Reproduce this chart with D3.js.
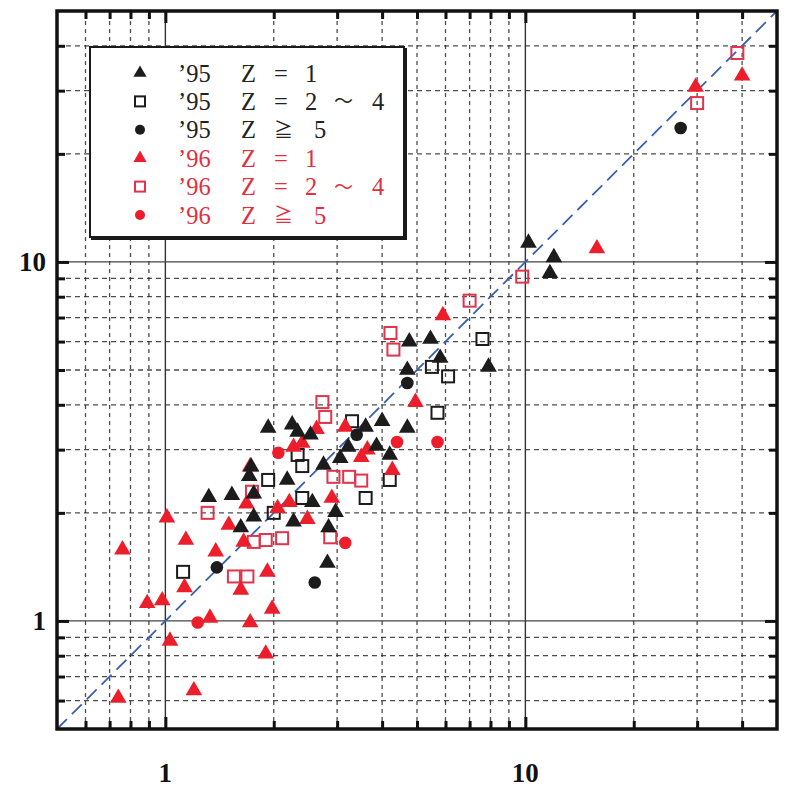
<!DOCTYPE html>
<html>
<head>
<meta charset="utf-8">
<script src="https://cdn.jsdelivr.net/npm/d3@7"></script>
<style>
  html, body { margin: 0; padding: 0; background: #fff; }
  svg { display: block; }
</style>
</head>
<body>
<svg id="chart" width="786" height="790"></svg>
<script>
// ---------------- DATA ----------------
const majorTicks = [1, 10];
const minorTicks = [0.6, 0.7, 0.8, 0.9, 2, 3, 4, 5, 6, 7, 8, 9, 20, 30, 40];
const tickLabels = ["1", "10"];

const seriesLabels = ["’95 Z = 1", "’95 Z = 2 ～ 4", "’95 Z ≧ 5",
                      "’96 Z = 1", "’96 Z = 2 ～ 4", "’96 Z ≧ 5"];

// '95 Z = 1 (black triangles)  [x, y]
const tri95 = [[10.2,11.3],[12.0,10.3],[11.7,9.3],[7.9,5.1],[5.8,5.4],[5.45,6.1],[4.76,6.0],
  [4.7,5.0],[4.7,3.45],[4.0,3.6],[3.6,3.47],[4.2,2.9],[3.86,3.07],[3.22,3.05],[3.06,2.84],
  [2.75,2.72],[2.53,3.3],[2.33,3.36],[2.25,3.52],[1.93,3.45],[2.18,2.47],[1.73,2.69],[1.71,2.53],
  [1.32,2.21],[1.53,2.24],[1.76,2.26],[1.76,1.95],[1.62,1.82],[2.27,1.89],[2.56,2.14],
  [2.97,2.01],[2.84,1.82],[2.82,1.45]];
// '95 Z = 2~4 (black squares)
const sq95 = [[7.6,6.1],[5.5,5.1],[6.1,4.8],[5.7,3.8],[4.2,2.47],[3.6,2.2],[3.3,3.6],[2.4,2.7],
  [2.33,2.9],[2.4,2.2],[1.93,2.47],[2.0,2.0],[1.12,1.37]];
// '95 Z >= 5 (black circles)
const circ95 = [[27,23.6],[4.7,4.6],[1.39,1.41],[2.6,1.28],[3.4,3.3]];
// '96 Z = 1 (red triangles)
const tri96 = [[40,33],[29.7,30.7],[15.8,10.9],[5.9,7.1],[4.95,4.07],[4.27,2.63],[3.5,2.86],
  [3.64,3.0],[3.16,3.47],[2.63,3.42],[2.4,3.13],[2.27,3.05],[1.72,2.69],[1.68,2.12],[1.5,1.85],
  [2.05,2.06],[2.21,2.14],[2.9,2.2],[2.48,1.92],[1.01,1.94],[1.14,1.68],[0.76,1.58],[1.38,1.56],
  [1.65,1.66],[1.13,1.24],[0.89,1.12],[0.98,1.14],[1.62,1.22],[1.03,0.88],[1.33,1.02],
  [1.72,0.99],[1.98,1.08],[1.9,0.81],[1.2,0.64],[0.74,0.61],[1.92,1.37]];
// '96 Z = 2~4 (red squares)
const sq96 = [[38.8,38.2],[30,27.7],[9.8,9.1],[7.0,7.8],[4.22,6.34],[4.3,5.7],[2.73,4.07],
  [2.78,3.7],[3.5,2.46],[3.24,2.52],[2.93,2.52],[2.87,1.71],[1.31,2.0],[1.74,2.29],[1.9,1.68],
  [2.11,1.70],[1.76,1.66],[1.55,1.33],[1.69,1.33]];
// '96 Z >= 5 (red circles)
const circ96 = [[5.7,3.15],[3.16,1.65],[2.06,2.94],[1.23,0.99],[4.4,3.15]];

// ---------------- DRAW ----------------
const svg = d3.select("#chart");
const BLACK = "#1c1c1c", RED = "#ec1e2c", RED_SQ = "#e0344c";

const x = d3.scaleLog().domain([0.5, 50]).range([57, 777]);
const y = d3.scaleLog().domain([0.5, 50]).range([729, 11]);
const [x0, x1] = x.range(), [y0, y1] = y.range();

svg.append("rect").attr("width", 786).attr("height", 790).attr("fill", "#fff");

const grid = svg.append("g");
// minor dashed grid
grid.selectAll(".gv").data(minorTicks).join("line")
  .attr("x1", d => x(d)).attr("x2", d => x(d)).attr("y1", y0).attr("y2", y1)
  .attr("stroke", "#222").attr("stroke-width", 1.3).attr("stroke-dasharray", "4,4")
  .attr("opacity", 0.8);
grid.selectAll(".gh").data(minorTicks).join("line")
  .attr("y1", d => y(d)).attr("y2", d => y(d)).attr("x1", x0).attr("x2", x1)
  .attr("stroke", "#222").attr("stroke-width", 1.3).attr("stroke-dasharray", "5,4")
  .attr("opacity", 0.8);
// major solid grid
grid.selectAll(".mv").data(majorTicks).join("line")
  .attr("x1", d => x(d)).attr("x2", d => x(d)).attr("y1", y0).attr("y2", y1)
  .attr("stroke", "#333").attr("stroke-width", 1.4);
grid.selectAll(".mh").data(majorTicks).join("line")
  .attr("y1", d => y(d)).attr("y2", d => y(d)).attr("x1", x0).attr("x2", x1)
  .attr("stroke", "#444").attr("stroke-width", 1.2);

// inward ticks on all four sides via d3 axes
function styleAxis(g) {
  g.select(".domain").remove();
  g.selectAll("line").attr("stroke", "#111").attr("stroke-width", 3);
  g.selectAll("text").remove();
}
function addAxes(ticks, len) {
  svg.append("g").attr("transform", `translate(0,${y0})`)
    .call(d3.axisBottom(x).tickValues(ticks).tickSize(-len)).call(styleAxis);
  svg.append("g").attr("transform", `translate(0,${y1})`)
    .call(d3.axisTop(x).tickValues(ticks).tickSize(-len)).call(styleAxis);
  svg.append("g").attr("transform", `translate(${x0},0)`)
    .call(d3.axisLeft(y).tickValues(ticks).tickSize(-len)).call(styleAxis);
  svg.append("g").attr("transform", `translate(${x1},0)`)
    .call(d3.axisRight(y).tickValues(ticks).tickSize(-len)).call(styleAxis);
}
addAxes(minorTicks, 8);
addAxes(majorTicks, 12);

// y = x diagonal
svg.append("line")
  .attr("x1", x(0.5)).attr("y1", y(0.5)).attr("x2", x(50)).attr("y2", y(50))
  .attr("stroke", "#3a5fb0").attr("stroke-width", 1.8).attr("stroke-dasharray", "14,7");

// frame
svg.append("rect").attr("x", x0).attr("y", y1).attr("width", x1 - x0).attr("height", y0 - y1)
  .attr("fill", "none").attr("stroke", "#111").attr("stroke-width", 3.5);

// tick labels
const lblFont = "'Liberation Serif', 'DejaVu Serif', serif";
svg.selectAll(".xl").data(majorTicks).join("text")
  .attr("x", d => x(d)).attr("y", 782).attr("text-anchor", "middle")
  .attr("font-family", lblFont).attr("font-weight", "bold").attr("font-size", 27)
  .attr("fill", "#111").text((d, i) => tickLabels[i]);
svg.selectAll(".yl").data(majorTicks).join("text")
  .attr("x", 46).attr("y", d => y(d) + 9).attr("text-anchor", "end")
  .attr("font-family", lblFont).attr("font-weight", "bold").attr("font-size", 27)
  .attr("fill", "#111").text((d, i) => tickLabels[i]);

// markers
const triPath = d3.symbol().type(d3.symbolTriangle).size(120)();
const marks = svg.append("g");
function drawTri(data, col) {
  marks.selectAll(null).data(data).join("path")
    .attr("d", triPath).attr("transform", d => `translate(${x(d[0])},${y(d[1])})`)
    .attr("fill", col);
}
function drawSq(data, col) {
  marks.selectAll(null).data(data).join("rect")
    .attr("x", d => x(d[0]) - 6).attr("y", d => y(d[1]) - 6)
    .attr("width", 12).attr("height", 12)
    .attr("fill", "none").attr("stroke", col).attr("stroke-width", 2);
}
function drawCirc(data, col) {
  marks.selectAll(null).data(data).join("circle")
    .attr("cx", d => x(d[0])).attr("cy", d => y(d[1])).attr("r", 6.3)
    .attr("fill", col);
}
drawSq(sq96, RED_SQ);
drawSq(sq95, BLACK);
drawTri(tri96, RED);
drawCirc(circ96, RED);
drawTri(tri95, BLACK);
drawCirc(circ95, BLACK);

// legend
const lg = svg.append("g");
lg.append("rect").attr("x", 90).attr("y", 47).attr("width", 314).attr("height", 190)
  .attr("fill", "#fff").attr("stroke", "#1a1a1a").attr("stroke-width", 2);
lg.append("line").attr("x1", 91).attr("x2", 407).attr("y1", 238).attr("y2", 238)
  .attr("stroke", "#1a1a1a").attr("stroke-width", 4);
lg.append("line").attr("x1", 405.5).attr("x2", 405.5).attr("y1", 48).attr("y2", 240)
  .attr("stroke", "#1a1a1a").attr("stroke-width", 3);

const legTypes = ["tri", "sq", "circ", "tri", "sq", "circ"];
const colX = [178, 241, 274, 305, 334, 372];
const rowY = d3.scalePoint().domain(d3.range(seriesLabels.length)).range([73, 215]);
seriesLabels.forEach((lab, i) => {
  const col = i < 3 ? BLACK : RED;
  const cy = rowY(i), cx = 140;
  if (legTypes[i] === "tri") lg.append("path").attr("d", d3.symbol().type(d3.symbolTriangle).size(75)())
      .attr("transform", `translate(${cx},${cy})`).attr("fill", col);
  else if (legTypes[i] === "sq") lg.append("rect").attr("x", cx - 5).attr("y", cy - 5)
      .attr("width", 10).attr("height", 10).attr("fill", "none")
      .attr("stroke", i < 3 ? BLACK : RED_SQ).attr("stroke-width", 2);
  else lg.append("circle").attr("cx", cx).attr("cy", cy).attr("r", 5).attr("fill", col);

  // each label token is its own text element, laid out in columns
  const toks = lab.split(" ");
  toks.forEach((tk, j) => {
    let px = colX[j];
    if (tk === "5" && toks[j - 1] === "≧") px = 314;
    const cjk = tk === "≧" || tk === "～";
    lg.append("text").attr("x", px).attr("y", cy + (cjk ? 7 : 8.5))
      .attr("font-family", cjk ? "'Noto Sans CJK JP', serif" : "'Liberation Serif', serif")
      .attr("font-size", cjk ? 19 : 24.5)
      .attr("fill", i < 3 ? "#222" : "#e03040")
      .text(tk);
  });
});
</script>
</body>
</html>
